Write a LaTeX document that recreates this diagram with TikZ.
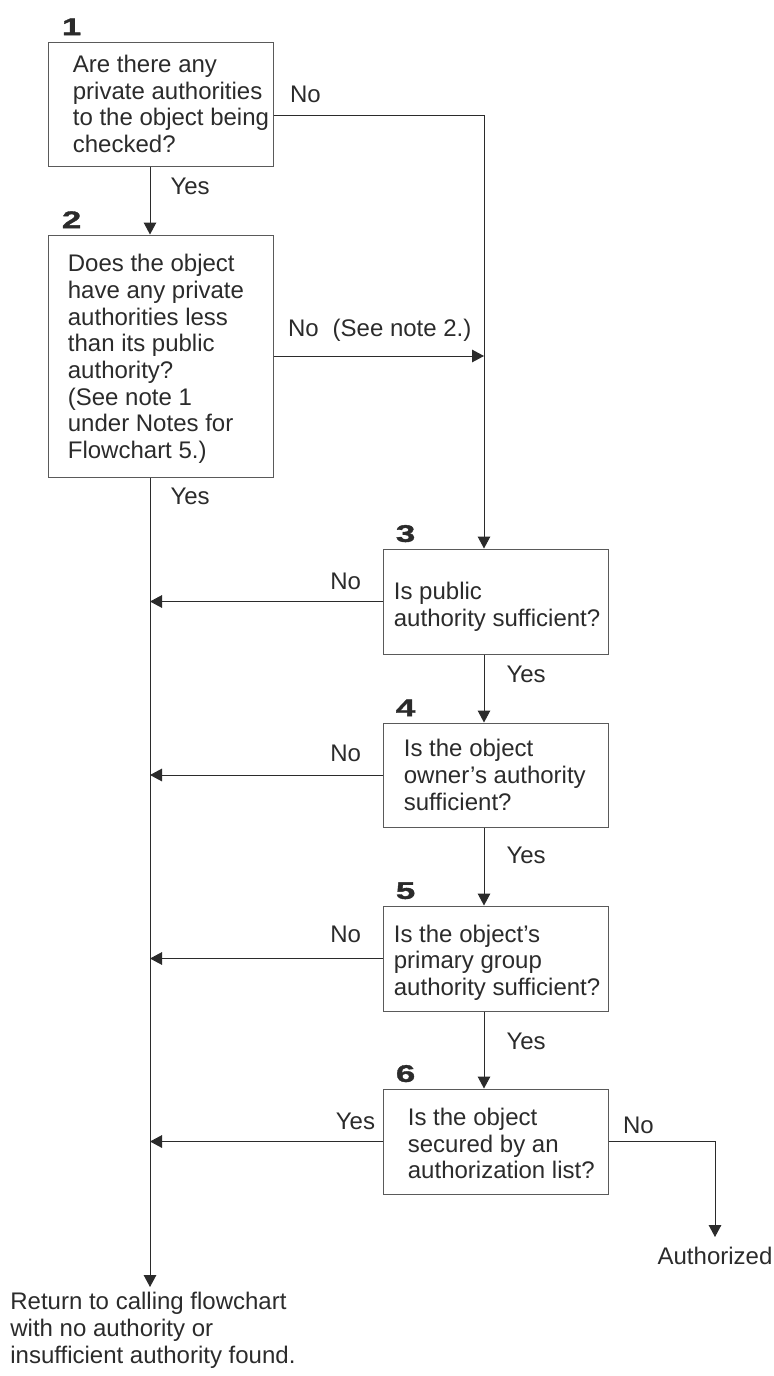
\documentclass[tikz,border=0pt]{standalone}
\usepackage{fontspec}
\setmainfont{Liberation Sans}
\newfontfamily\numfont[FakeStretch=1.45,FakeBold=1.5]{Liberation Sans}
\usepackage{xcolor}
\usepackage{tikz}
\usetikzlibrary{arrows.meta}
\usetikzlibrary{positioning}
\definecolor{inkgray}{HTML}{2B2B2B}
\definecolor{boxgray}{HTML}{5A5A5A}
\tikzset{
    q_box/.style = {rectangle, draw=boxgray, line width=0.5pt, minimum width=112.5pt, inner sep=0pt},
    q_text/.style = {align=left, inner sep=0pt, text=inkgray, font=\fontsize{12pt}{13.35pt}\selectfont},
    num_tag/.style = {inner sep=0pt, text=inkgray, font=\numfont\bfseries\fontsize{12pt}{13pt}\selectfont},
    edge_lbl/.style = {inner sep=0pt, text=inkgray, font=\fontsize{12pt}{13.35pt}\selectfont},
    flow/.style = {draw=inkgray, line width=0.5pt, ->}
}
\begin{document}
\begin{tikzpicture}
    [x=0.5pt, y=-0.5pt, >={Triangle[width=6.3pt,length=6pt]}]

    \useasboundingbox (0,0) rectangle (774,1376);
    \coordinate (left_x) at (150,0);
    \coordinate (right_x) at (484,0);

    \node [q_box, minimum height=62pt] (q1) at (160.5,104) {};
    \node [q_box, minimum height=121pt] (q2) at (160.5,356) {};
    \node [q_box, minimum height=52.5pt] (q3) at (495.5,601.5) {};
    \node [q_box, minimum height=52pt] (q4) at (495.5,775) {};
    \node [q_box, minimum height=52.5pt] (q5) at (495.5,958.5) {};
    \node [q_box, minimum height=52.5pt] (q6) at (495.5,1141.5) {};

    \node [num_tag, above right=3pt and 7pt of q1.north west] (n1) {1};
    \node [num_tag, above right=3pt and 7pt of q2.north west] (n2) {2};
    \node [num_tag, above right=3pt and 6.5pt of q3.north west] (n3) {3};
    \node [num_tag, above right=3pt and 6.5pt of q4.north west] (n4) {4};
    \node [num_tag, above right=3pt and 6.5pt of q5.north west] (n5) {5};
    \node [num_tag, above right=3pt and 6.5pt of q6.north west] (n6) {6};

    \node [q_text, right=12.5pt of q1.west] (t1) {Are there any\\private authorities\\to the object being\\checked?};
    \node [q_text, right=10pt of q2.west, yshift=-1.5pt] (t2) {Does the object\\have any private\\authorities less\\than its public\\authority?\\(See note 1\\under Notes for\\Flowchart 5.)};
    \node [q_text, right=5.5pt of q3.west, yshift=-2.5pt] (t3) {Is public\\authority sufficient?};
    \node [q_text, right=10.5pt of q4.west] (t4) {Is the object\\owner’s authority\\sufficient?};
    \node [q_text, right=5.5pt of q5.west, yshift=-2pt] (t5) {Is the object’s\\primary group\\authority sufficient?};
    \node [q_text, right=12.5pt of q6.west, yshift=-1pt] (t6) {Is the object\\secured by an\\authorization list?};

    \node [q_text, anchor=north west] (ret) at (10,1292) {Return to calling flowchart\\with no authority or\\insufficient authority found.};
    \node [edge_lbl, anchor=north] (auth) at (715,1247) {Authorized};

    \coordinate (q1_out) at ([yshift=-5.5pt]q1.east);

    \draw [flow] (q1.south -| left_x) -- node [edge_lbl, anchor=north west, pos=0, xshift=10pt, yshift=-5.5pt] {Yes} (q2.north -| left_x);
    \draw [flow] (q1_out) -- node [edge_lbl, anchor=south west, pos=0, xshift=8pt, yshift=6pt] {No} (q1_out -| right_x) -- (q3.north -| right_x);
    \draw [flow] (q2.east) -- node [edge_lbl, anchor=south west, pos=0, xshift=7pt, yshift=7pt] {No\hspace{7pt}(See note 2.)} (q2.east -| right_x);
    \draw [flow, shorten >=2.5pt] (q2.south -| left_x) -- node [edge_lbl, anchor=north west, pos=0, xshift=10pt, yshift=-5pt] {Yes} (ret.north -| left_x);

    \draw [flow] (q3.west) -- node [edge_lbl, anchor=south east, pos=0, xshift=-10.5pt, yshift=5.5pt] {No} (q3.west -| left_x);
    \draw [flow] (q4.west) -- node [edge_lbl, anchor=south east, pos=0, xshift=-10.5pt, yshift=6.3pt] {No} (q4.west -| left_x);
    \draw [flow] (q5.west) -- node [edge_lbl, anchor=south east, pos=0, xshift=-10.5pt, yshift=7.5pt] {No} (q5.west -| left_x);
    \draw [flow] (q6.west) -- node [edge_lbl, anchor=south east, pos=0, xshift=-3.5pt, yshift=5.5pt] {Yes} (q6.west -| left_x);

    \draw [flow] (q3.south -| right_x) -- node [edge_lbl, anchor=west, xshift=11pt, yshift=7pt] {Yes} (q4.north -| right_x);
    \draw [flow] (q4.south -| right_x) -- node [edge_lbl, anchor=west, xshift=11pt, yshift=5.75pt] {Yes} (q5.north -| right_x);
    \draw [flow] (q5.south -| right_x) -- node [edge_lbl, anchor=west, xshift=11pt, yshift=4.5pt] {Yes} (q6.north -| right_x);

    \draw [flow, shorten >=5pt] (q6.east) -- node [edge_lbl, anchor=south west, pos=0, xshift=7pt, yshift=3.5pt] {No} (q6.east -| auth.north) -- (auth.north);
\end{tikzpicture}
\end{document}
